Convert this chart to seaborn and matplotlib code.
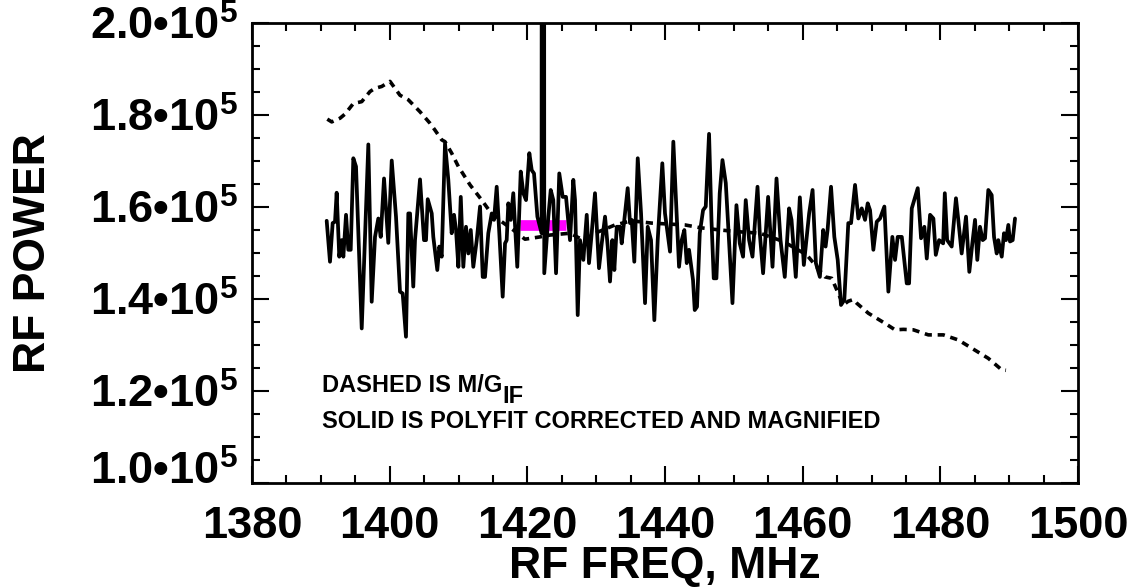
import numpy as np
import pandas as pd
import matplotlib
matplotlib.use("Agg")
import matplotlib.pyplot as plt
import matplotlib.transforms as mtransforms
from matplotlib.ticker import FixedLocator, MultipleLocator, FuncFormatter
import seaborn as sns

# Polyfit-corrected, magnified spectrum (solid), power in units of 1e3
freq_solid = [
    1390.85, 1391.33, 1391.72, 1392.06, 1392.30, 1392.68, 1393.03, 1393.27, 1393.66, 1393.99,
    1394.34, 1394.72, 1395.11, 1395.94, 1396.90, 1397.39, 1397.87, 1398.35, 1398.70, 1399.18,
    1399.80, 1400.30, 1400.92, 1401.50, 1401.89, 1402.37, 1402.71, 1402.96, 1403.43, 1403.68,
    1404.41, 1404.99, 1405.28, 1405.53, 1406.11, 1406.34, 1406.92, 1407.21, 1407.56, 1408.04,
    1408.52, 1409.01, 1409.35, 1409.64, 1409.98, 1410.33, 1410.70, 1411.09, 1411.43, 1411.78,
    1412.15, 1412.65, 1413.13, 1413.52, 1413.85, 1414.33, 1414.83, 1415.16, 1415.55, 1415.93,
    1416.42, 1416.76, 1417.00, 1417.24, 1417.59, 1417.96, 1418.54, 1419.04, 1419.42, 1419.81,
    1420.29, 1420.64, 1420.97, 1421.46, 1422.07, 1422.26, 1422.46, 1423.05, 1423.40, 1423.77,
    1424.17, 1424.64, 1425.14, 1425.62, 1426.20, 1426.68, 1426.93, 1427.32, 1427.65, 1428.14,
    1428.63, 1428.96, 1429.35, 1429.83, 1430.41, 1430.81, 1431.29, 1431.68, 1432.01, 1432.35,
    1432.64, 1432.99, 1433.47, 1433.71, 1434.09, 1434.58, 1434.92, 1435.16, 1435.54, 1436.04,
    1436.52, 1437.10, 1437.49, 1437.97, 1438.45, 1438.94, 1439.61, 1440.00, 1440.73, 1441.21,
    1441.70, 1442.04, 1442.43, 1442.81, 1443.16, 1443.49, 1444.07, 1444.32, 1444.65, 1445.05,
    1445.53, 1445.92, 1446.40, 1446.75, 1447.08, 1447.47, 1447.95, 1448.35, 1448.83, 1449.16,
    1449.80, 1450.38, 1450.86, 1451.34, 1451.73, 1452.22, 1452.71, 1453.44, 1453.77, 1454.25,
    1454.98, 1455.62, 1456.20, 1456.78, 1457.40, 1458.03, 1458.38, 1459.00, 1459.59, 1460.17,
    1460.94, 1461.44, 1461.92, 1462.50, 1462.98, 1463.33, 1463.62, 1464.12, 1464.60, 1465.09,
    1465.57, 1466.05, 1466.63, 1467.03, 1467.61, 1468.09, 1468.58, 1469.06, 1469.45, 1469.79,
    1470.27, 1470.76, 1471.24, 1471.87, 1472.45, 1473.03, 1473.42, 1473.81, 1474.40, 1475.12,
    1475.46, 1475.85, 1476.72, 1477.20, 1477.68, 1478.03, 1478.51, 1478.99, 1479.34, 1479.82,
    1480.41, 1480.65, 1480.99, 1481.65, 1482.27, 1482.61, 1483.10, 1483.73, 1484.21, 1484.65,
    1485.04, 1485.37, 1485.76, 1486.16, 1486.49, 1486.97, 1487.46, 1487.80, 1488.19, 1488.42,
    1488.92, 1489.25, 1489.54, 1489.88, 1490.12, 1490.51, 1490.85,
]
power_solid_k = [
    157.0, 148.1, 156.5, 156.8, 163.1, 149.2, 152.8, 149.2, 158.3, 150.7,
    150.7, 170.6, 168.8, 133.6, 173.6, 139.4, 153.5, 157.5, 153.5, 166.2,
    152.2, 170.1, 157.9, 141.6, 141.2, 131.8, 158.6, 158.6, 142.7, 152.8,
    166.0, 152.8, 152.8, 161.7, 158.6, 153.5, 146.3, 151.4, 149.2, 173.8,
    165.9, 154.3, 158.3, 155.0, 147.0, 162.2, 147.0, 155.7, 149.9, 155.0,
    147.0, 152.8, 160.1, 144.8, 144.8, 154.3, 158.6, 157.2, 164.4, 154.3,
    140.5, 152.1, 152.8, 160.8, 157.2, 163.0, 147.0, 167.7, 163.0, 161.5,
    171.7, 168.0, 167.3, 157.9, 154.3, 900.0, 145.6, 157.9, 163.7, 161.5,
    145.6, 167.3, 162.2, 162.2, 152.8, 165.9, 161.5, 136.5, 152.8, 148.5,
    158.3, 147.8, 154.3, 163.0, 146.7, 152.1, 157.9, 151.4, 143.8, 152.8,
    146.3, 155.7, 155.7, 152.1, 157.2, 164.1, 156.5, 157.2, 148.1, 170.6,
    158.6, 139.1, 155.7, 152.8, 135.4, 152.8, 169.5, 158.6, 150.3, 174.2,
    157.9, 147.0, 152.8, 155.0, 147.8, 150.7, 144.1, 137.6, 138.3, 154.3,
    159.3, 160.1, 175.9, 157.2, 144.5, 144.5, 163.0, 170.2, 165.2, 156.5,
    139.1, 160.4, 152.1, 149.2, 161.5, 152.8, 149.2, 164.4, 154.3, 145.6,
    162.2, 147.0, 166.2, 152.8, 144.8, 159.7, 157.2, 144.8, 162.1, 147.4,
    158.6, 163.7, 147.8, 144.8, 155.0, 151.4, 155.0, 164.4, 153.5, 148.5,
    138.7, 139.8, 156.5, 156.5, 164.8, 157.5, 159.7, 157.2, 160.8, 159.3,
    150.7, 156.8, 157.5, 160.1, 141.6, 153.5, 148.5, 153.5, 153.5, 143.4,
    143.4, 159.7, 164.1, 153.2, 155.7, 148.8, 158.3, 157.5, 149.6, 152.8,
    152.1, 163.0, 152.8, 151.4, 161.9, 157.2, 149.9, 157.9, 145.9, 152.1,
    157.2, 148.5, 155.7, 152.8, 153.2, 163.7, 162.6, 153.5, 149.9, 152.8,
    149.2, 154.3, 152.8, 156.1, 152.5, 152.8, 157.5,
]

# M / G_IF curve (dashed), power in units of 1e3
freq_dashed = [
    1390.94, 1391.58, 1392.79, 1393.51, 1394.72, 1395.94, 1397.14, 1397.87, 1398.84, 1400.05,
    1401.50, 1402.71, 1404.41, 1405.86, 1406.59, 1407.56, 1408.04, 1409.01, 1409.98, 1411.68,
    1413.38, 1414.58, 1416.28, 1417.96, 1419.66, 1421.84, 1423.29, 1426.20, 1428.14, 1430.32,
    1432.74, 1435.16, 1438.07, 1442.91, 1445.09, 1448.00, 1450.90, 1453.80, 1457.19, 1460.59,
    1463.25, 1464.22, 1465.18, 1465.91, 1466.60, 1467.37, 1467.85, 1469.55, 1471.97, 1473.42,
    1474.63, 1476.08, 1478.26, 1480.44, 1482.61, 1484.79, 1486.97, 1488.92, 1489.54,
]
power_dashed_k = [
    179.1, 178.5, 179.3, 180.2, 182.5, 182.9, 185.1, 185.8, 186.2, 187.3,
    184.3, 183.3, 180.7, 178.2, 176.7, 174.6, 174.2, 171.7, 168.8, 164.8,
    161.5, 159.0, 156.8, 155.0, 153.0, 153.5, 153.9, 154.3, 152.8, 154.6,
    156.1, 157.0, 156.5, 156.1, 155.5, 155.0, 154.6, 154.3, 152.5, 149.6,
    144.8, 144.5, 141.2, 138.7, 139.5, 139.9, 139.1, 136.9, 134.7, 133.3,
    133.4, 133.3, 132.2, 132.2, 131.1, 129.1, 127.1, 124.6, 124.5,
]

# Highlighted band around the line
band_freq = [1418.94, 1425.62]
band_power_k = [156.15, 156.15]

y_ticks = [1.0e5, 1.2e5, 1.4e5, 1.6e5, 1.8e5, 2.0e5]
x_ticks = [1380, 1400, 1420, 1440, 1460, 1480, 1500]

solid = pd.DataFrame({"freq": freq_solid, "power": np.array(power_solid_k) * 1e3})
dashed = pd.DataFrame({"freq": freq_dashed, "power": np.array(power_dashed_k) * 1e3})
band = pd.DataFrame({"freq": band_freq, "power": np.array(band_power_k) * 1e3})

sns.set_theme(style="ticks")
plt.rcParams["font.family"] = ["Liberation Sans", "DejaVu Sans"]
plt.rcParams["font.weight"] = "bold"
plt.rcParams["mathtext.fontset"] = "custom"
plt.rcParams["mathtext.rm"] = "Liberation Sans:bold"
plt.rcParams["mathtext.bf"] = "Liberation Sans:bold"
plt.rcParams["mathtext.it"] = "Liberation Sans:bold"
plt.rcParams["mathtext.default"] = "rm"

fig = plt.figure(figsize=(11.35, 5.87), dpi=100)
ax = fig.add_axes([252 / 1135, 104 / 587, 826 / 1135, 460 / 587])

sns.lineplot(data=dashed, x="freq", y="power", ax=ax, color="black", lw=2.6,
             linestyle=(0, (2.0, 1.6)), estimator=None, sort=False, zorder=2)
sns.lineplot(data=band, x="freq", y="power", ax=ax, color="#FF00FF", lw=7.7,
             solid_capstyle="butt", estimator=None, sort=False, zorder=3)
sns.lineplot(data=solid, x="freq", y="power", ax=ax, color="black", lw=2.7,
             estimator=None, sort=False, zorder=4)

ax.set_xlim(1380, 1500)
ax.set_ylim(1.0e5, 2.0e5)
ax.xaxis.set_major_locator(FixedLocator(x_ticks))
ax.xaxis.set_minor_locator(MultipleLocator(5))
ax.yaxis.set_major_locator(FixedLocator(y_ticks))
ax.yaxis.set_minor_locator(MultipleLocator(5e3))
ax.xaxis.set_major_formatter(FuncFormatter(lambda v, p: f"{v:.0f}"))
ax.yaxis.set_major_formatter(FuncFormatter(lambda v, p: f"{v / 1e5:.1f}\u2022$10^{{5}}$"))

ax.tick_params(which="both", direction="in", top=True, right=True,
               width=1.5, color="black", labelcolor="black")
ax.tick_params(which="major", length=12)
ax.tick_params(which="minor", length=6)
ax.tick_params(axis="x", which="major", pad=16.5, labelsize=32.5)
ax.tick_params(axis="y", which="major", pad=10, labelsize=32.5)
for lab in ax.get_xticklabels() + ax.get_yticklabels():
    lab.set_fontweight("bold")

for spine in ax.spines.values():
    spine.set_linewidth(2)
    spine.set_color("black")

ax.set_xlabel("RF FREQ, MHz", fontsize=32, fontweight="bold", color="black")
ax.set_ylabel("RF POWER", fontsize=32, fontweight="bold", color="black")
ax.xaxis.set_label_coords(0.5, -0.137)
ax.yaxis.set_label_coords(-0.2397, 0.5)

# lift the lowest y label clear of the x axis labels
low_tick = ax.yaxis.get_major_ticks()[0]
low_tick.label1.set_transform(
    low_tick.label1.get_transform()
    + mtransforms.ScaledTranslation(0, 11 / 72, fig.dpi_scale_trans)
)

t1 = ax.text(0.0847, 0.198, "DASHED IS M/G", transform=ax.transAxes,
             fontsize=17, fontweight="bold", va="baseline", ha="left", color="black")
ax.annotate("IF", xy=(1, 0), xycoords=t1, xytext=(0, -7.7), textcoords="offset points",
            fontsize=17, fontweight="bold", va="bottom", ha="left", color="black")
ax.text(0.0847, 0.1196, "SOLID IS POLYFIT CORRECTED AND MAGNIFIED", transform=ax.transAxes,
        fontsize=17, fontweight="bold", va="baseline", ha="left", color="black")

fig.savefig("out.png", dpi=100)
